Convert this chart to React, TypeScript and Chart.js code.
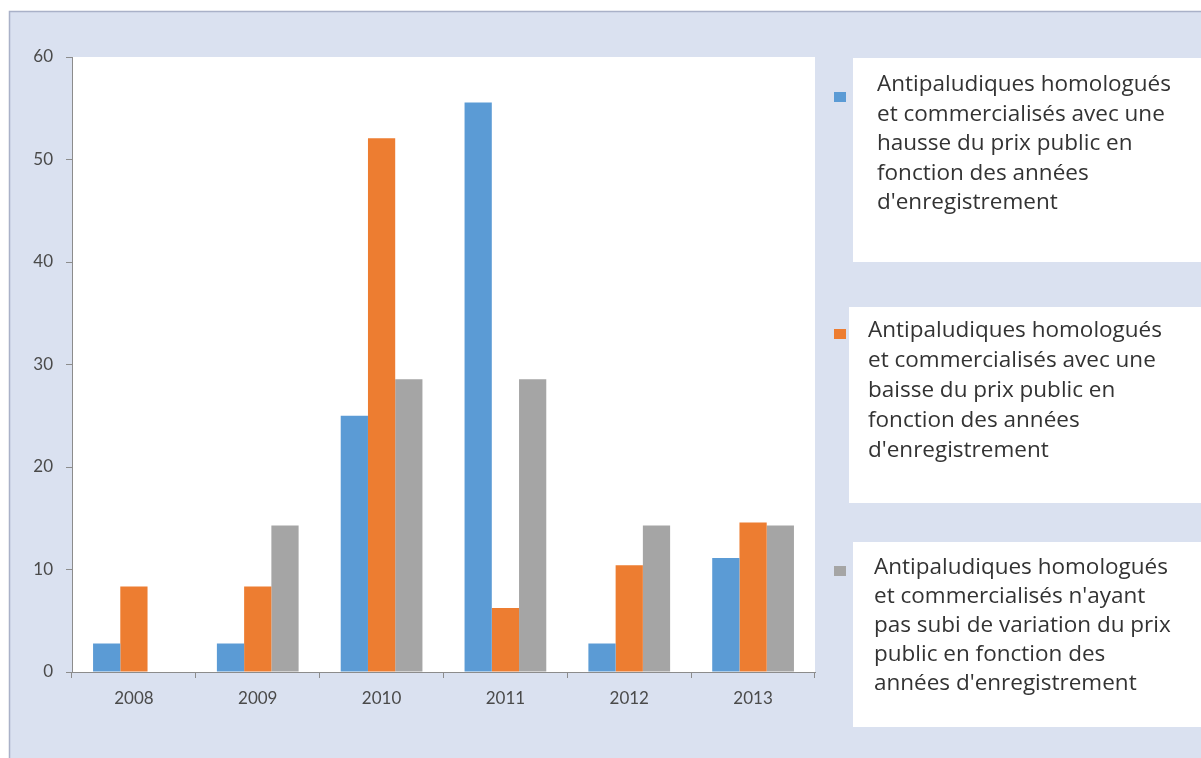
import React, { useEffect, useRef } from "react";
import { Chart, registerables } from "chart.js";

Chart.register(...registerables);

const years = ["2008", "2009", "2010", "2011", "2012", "2013"];

// Share (%) of antimalarials per registration year
const hausse = [2.78, 2.78, 25.0, 55.56, 2.78, 11.11];
const baisse = [8.33, 8.33, 52.08, 6.25, 10.42, 14.58];
const stable = [0, 14.29, 28.57, 28.57, 14.29, 14.29];

const yTicks = [0, 10, 20, 30, 40, 50, 60];

const legendHausse = [
  "Antipaludiques homologués",
  "et commercialisés avec une",
  "hausse du prix public en",
  "fonction des années",
  "d'enregistrement",
];
const legendBaisse = [
  "Antipaludiques homologués",
  "et commercialisés avec une",
  "baisse du prix public en",
  "fonction des années",
  "d'enregistrement",
];
const legendStable = [
  "Antipaludiques homologués",
  "et commercialisés n'ayant",
  "pas subi de variation du prix",
  "public en fonction des",
  "années d'enregistrement",
];

const legendLines = [legendHausse, legendBaisse, legendStable];

const COLORS = ["#5b9bd5", "#ed7d31", "#a5a5a5"];
const PANEL = "#dae1f0";
const PANEL_EDGE = "#a9b1c8";
const TEXT = "#333333";
const TICK_TEXT = "#4a4a4a";
const AXIS = "#8c8c8c";

// Legend panels on the right of the plot
const legendBoxes = [
  { x: 853, y: 58, w: 348, h: 204, mx: 834, my: 92, tx: 877, ty: 85, lh: 29.5 },
  { x: 849, y: 307, w: 352, h: 196, mx: 834, my: 329, tx: 868, ty: 331, lh: 29.8 },
  { x: 853, y: 542, w: 348, h: 185, mx: 834, my: 566, tx: 874, ty: 568, lh: 29 },
];

const backgroundPlugin = {
  id: "panelBackground",
  beforeDraw(chart: any) {
    const { ctx, width, height, chartArea } = chart;
    ctx.save();
    ctx.fillStyle = "#ffffff";
    ctx.fillRect(0, 0, width, height);
    ctx.fillStyle = PANEL;
    ctx.fillRect(9, 11, width - 9, height - 11);
    ctx.strokeStyle = PANEL_EDGE;
    ctx.lineWidth = 1.5;
    ctx.beginPath();
    ctx.moveTo(9.5, height);
    ctx.lineTo(9.5, 11.5);
    ctx.lineTo(width, 11.5);
    ctx.stroke();
    ctx.fillStyle = "#ffffff";
    ctx.fillRect(
      chartArea.left,
      chartArea.top,
      chartArea.right - chartArea.left,
      chartArea.bottom - chartArea.top
    );
    ctx.restore();
  },
};

const boxLegendPlugin = {
  id: "boxLegend",
  afterDraw(chart: any) {
    const { ctx } = chart;
    ctx.save();
    chart.data.datasets.forEach((ds: any, i: number) => {
      const b = legendBoxes[i];
      ctx.fillStyle = "#ffffff";
      ctx.fillRect(b.x, b.y, b.w, b.h);
      ctx.fillStyle = ds.backgroundColor;
      ctx.fillRect(b.mx, b.my, 12, 10);
      ctx.fillStyle = TEXT;
      ctx.font = "22.5px 'Open Sans', Lato, sans-serif";
      ctx.textAlign = "left";
      ctx.textBaseline = "middle";
      legendLines[i].forEach((line, j) => {
        ctx.fillText(line, b.tx, b.ty + j * b.lh);
      });
    });
    ctx.restore();
  },
};

export default function App() {
  const canvasRef = useRef<HTMLCanvasElement | null>(null);

  useEffect(() => {
    document.body.style.margin = "0";
    const canvas = canvasRef.current;
    if (!canvas) return;
    const chart = new Chart(canvas, {
      type: "bar",
      data: {
        labels: years,
        datasets: [
          { label: legendHausse.join(" "), data: hausse, backgroundColor: COLORS[0] },
          { label: legendBaisse.join(" "), data: baisse, backgroundColor: COLORS[1] },
          { label: legendStable.join(" "), data: stable, backgroundColor: COLORS[2] },
        ],
      },
      options: {
        animation: false,
        responsive: false,
        devicePixelRatio: 1,
        layout: { padding: { top: 57, right: 386, bottom: 0, left: 0 } },
        datasets: {
          bar: { categoryPercentage: 0.66, barPercentage: 1.0 },
        },
        plugins: {
          legend: { display: false },
          tooltip: { enabled: false },
        },
        scales: {
          x: {
            grid: {
              display: true,
              drawOnChartArea: false,
              drawTicks: true,
              tickLength: 6,
              color: AXIS,
              offset: true,
            },
            border: { display: true, color: AXIS, width: 1 },
            ticks: {
              color: TICK_TEXT,
              font: { family: "Lato, 'Open Sans', sans-serif", size: 17 },
              padding: 10,
            },
            afterFit(scale: any) {
              scale.height = 86;
            },
          },
          y: {
            min: 0,
            max: 60,
            afterBuildTicks(scale: any) {
              scale.ticks = yTicks.map((v) => ({ value: v }));
            },
            grid: {
              display: true,
              drawOnChartArea: false,
              drawTicks: true,
              tickLength: 6,
              color: AXIS,
            },
            border: { display: true, color: AXIS, width: 1 },
            ticks: {
              color: TICK_TEXT,
              font: { family: "Lato, 'Open Sans', sans-serif", size: 17 },
              padding: 13,
            },
            afterFit(scale: any) {
              scale.width = 72;
            },
          },
        },
      },
      plugins: [backgroundPlugin, boxLegendPlugin],
    });
    return () => chart.destroy();
  }, []);

  return (
    <div style={{ position: "absolute", left: 0, top: 0, width: 1201, height: 758 }}>
      <canvas ref={canvasRef} width={1201} height={758} style={{ display: "block" }} />
    </div>
  );
}
